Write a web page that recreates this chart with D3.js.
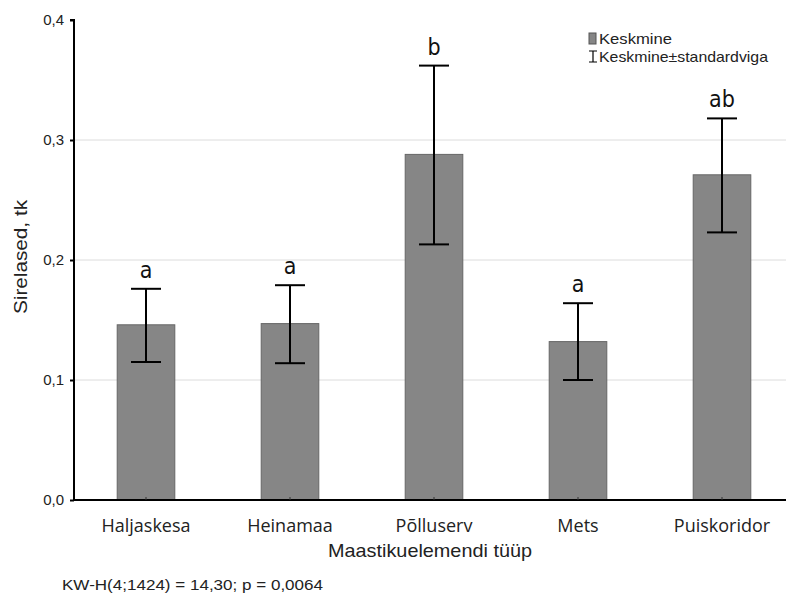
<!DOCTYPE html>
<html><head><meta charset="utf-8">
<script src="https://cdn.jsdelivr.net/npm/d3@7"></script>
<style>body{margin:0;background:#fff}svg{display:block}</style>
</head><body>
<svg id="c" width="786" height="594"></svg>
<script>
const categories = ["Haljaskesa","Heinamaa","Põlluserv","Mets","Puiskoridor"];
const means = [0.146, 0.147, 0.288, 0.132, 0.271];
const errLow = [0.115, 0.114, 0.213, 0.100, 0.223];
const errHigh = [0.176, 0.179, 0.362, 0.164, 0.318];
const groupLetters = ["a","a","b","a","ab"];
const yTicks = [0, 0.1, 0.2, 0.3, 0.4];
const yTickLabels = ["0,0","0,1","0,2","0,3","0,4"];

const svg = d3.select("#c");
const x0 = 74, x1 = 794, yTop = 20, yBot = 500;
const x = d3.scaleBand().domain(categories).range([x0, x1]).paddingInner(0.6).paddingOuter(0.3);
const y = d3.scaleLinear().domain([0, 0.4]).range([yBot, yTop]);
const sans = "Liberation Sans, Arial, sans-serif";

// gridlines
svg.append("g").selectAll("line").data(yTicks.filter(t => t > 0 && t < 0.4)).join("line")
  .attr("x1", x0).attr("x2", 786).attr("y1", d => y(d)).attr("y2", d => y(d))
  .attr("stroke", "#dcdcdc").attr("stroke-width", 1);

// bars
svg.append("g").selectAll("rect").data(categories).join("rect")
  .attr("x", d => x(d)).attr("width", x.bandwidth())
  .attr("y", (d, i) => y(means[i])).attr("height", (d, i) => yBot - y(means[i]))
  .attr("fill", "#868686").attr("stroke", "#666").attr("stroke-width", 1);

// error bars
const eg = svg.append("g").attr("stroke", "#000").attr("stroke-width", 2);
categories.forEach((c, i) => {
  const cx = x(c) + x.bandwidth() / 2;
  eg.append("line").attr("x1", cx).attr("x2", cx).attr("y1", y(errLow[i])).attr("y2", y(errHigh[i]));
  eg.append("line").attr("x1", cx - 15).attr("x2", cx + 15).attr("y1", y(errLow[i])).attr("y2", y(errLow[i]));
  eg.append("line").attr("x1", cx - 15).attr("x2", cx + 15).attr("y1", y(errHigh[i])).attr("y2", y(errHigh[i]));
});

// letters
svg.append("g").selectAll("text").data(categories).join("text")
  .attr("x", d => x(d) + x.bandwidth() / 2).attr("y", (d, i) => y(errHigh[i]) - 11)
  .attr("text-anchor", "middle").attr("font-family", "DejaVu Sans Condensed, DejaVu Sans, sans-serif")
  .attr("font-size", 23).attr("fill", "#111").text((d, i) => groupLetters[i]);

// y axis
const yAxis = d3.axisLeft(y).tickValues(yTicks).tickSize(4).tickFormat((d, i) => yTickLabels[i]);
const ya = svg.append("g").attr("transform", `translate(${x0},0)`).call(yAxis);
ya.select(".domain").attr("stroke", "#000").attr("stroke-width", 2).attr("d", `M-4,${yTop}H0V${yBot}`);
ya.selectAll(".tick line").attr("stroke", "#000").attr("stroke-width", 2);
ya.selectAll(".tick text").attr("font-family", sans).attr("font-size", 15).attr("fill", "#222").attr("x", -10);

// x axis
const xAxis = d3.axisBottom(x).tickSize(-3).tickPadding(14);
const xa = svg.append("g").attr("transform", `translate(0,${yBot})`).call(xAxis);
xa.select(".domain").attr("stroke", "#000").attr("stroke-width", 2).attr("d", `M${x0},0H786`);
xa.selectAll(".tick line").attr("stroke", "#333").attr("stroke-width", 1);
xa.selectAll(".tick text").attr("font-family", "Open Sans, sans-serif").attr("font-size", 18).attr("fill", "#222")
  .attr("y", 32).attr("dy", 0);

// axis titles
svg.append("text").attr("x", 430).attr("y", 557).attr("text-anchor", "middle")
  .attr("font-family", sans).attr("font-size", 19).attr("fill", "#222")
  .attr("textLength", 204).attr("lengthAdjust", "spacingAndGlyphs").text("Maastikuelemendi tüüp");
svg.append("text").attr("transform", "translate(27,257) rotate(-90)").attr("text-anchor", "middle")
  .attr("font-family", sans).attr("font-size", 18).attr("fill", "#222")
  .attr("textLength", 114).attr("lengthAdjust", "spacingAndGlyphs")
  .text("Sirelased, tk");

// stats
svg.append("text").attr("x", 62).attr("y", 590)
  .attr("font-family", sans).attr("font-size", 14).attr("fill", "#222")
  .attr("textLength", 261).attr("lengthAdjust", "spacingAndGlyphs").text("KW-H(4;1424) = 14,30; p = 0,0064");

// legend
const lg = svg.append("g");
lg.append("rect").attr("x", 589).attr("y", 33).attr("width", 7).attr("height", 11).attr("fill", "#868686").attr("stroke", "#555").attr("stroke-width", 1);
lg.append("text").attr("x", 599).attr("y", 44).attr("font-family", sans).attr("font-size", 15).attr("fill", "#222")
  .attr("textLength", 73).attr("lengthAdjust", "spacingAndGlyphs").text("Keskmine");
lg.append("path").attr("d", "M589,51H597M593,51V62M589,62H597").attr("stroke", "#000").attr("stroke-width", 1.2).attr("fill", "none");
lg.append("text").attr("x", 599).attr("y", 62).attr("font-family", sans).attr("font-size", 15).attr("fill", "#222")
  .attr("textLength", 169).attr("lengthAdjust", "spacingAndGlyphs").text("Keskmine±standardviga");
</script>
</body></html>
